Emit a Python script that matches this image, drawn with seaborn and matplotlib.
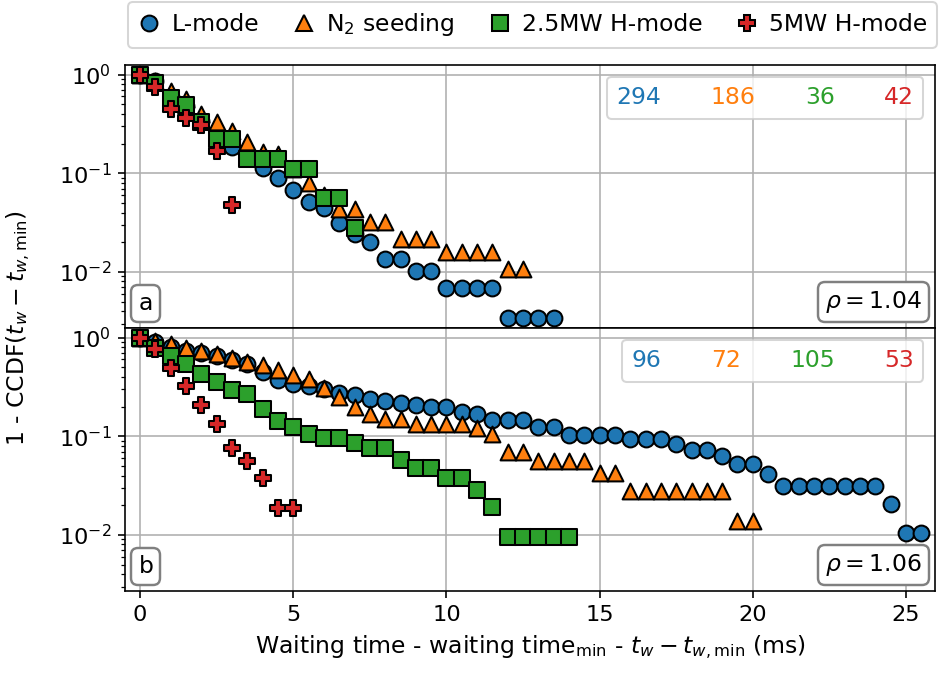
import numpy as np
import pandas as pd
import matplotlib
matplotlib.use("Agg")
import matplotlib.pyplot as plt
from matplotlib.lines import Line2D
from matplotlib.offsetbox import AnchoredText
import seaborn as sns

# ---------------- data ----------------
series_names = ["L-mode", r"N$_2$ seeding", "2.5MW H-mode", "5MW H-mode"]
colors = ["#1f77b4", "#ff7f0e", "#2ca02c", "#d62728"]
markers = ["o", "^", "s", "P"]

# panel a
a_lmode_x = [0, 0.5, 1, 1.5, 2, 2.5, 3, 3.5, 4, 4.5, 5, 5.5, 6, 6.5, 7, 7.5, 8, 8.5, 9, 9.5,
             10, 10.5, 11, 11.5, 12, 12.5, 13, 13.5]
a_lmode_y = [1.0, 0.86, 0.59, 0.48, 0.34, 0.24, 0.186, 0.15, 0.112, 0.089, 0.068, 0.051, 0.044,
             0.031, 0.024, 0.020, 0.0136, 0.0136, 0.0102, 0.0102, 0.0068, 0.0068, 0.0068, 0.0068,
             0.0034, 0.0034, 0.0034, 0.0034]
a_n2_x = [0, 0.5, 1, 1.5, 2, 2.5, 3, 3.5, 4, 4.5, 5, 5.5, 6, 6.5, 7, 7.5, 8, 8.5, 9, 9.5,
          10, 10.5, 11, 11.5, 12, 12.5]
a_n2_y = [1.0, 0.87, 0.68, 0.57, 0.40, 0.33, 0.27, 0.205, 0.165, 0.155, 0.11, 0.079, 0.06,
          0.043, 0.043, 0.032, 0.032, 0.0215, 0.0215, 0.0215, 0.0161, 0.0161, 0.0161, 0.0161,
          0.0108, 0.0108]
a_h25_x = [0, 0.5, 1, 1.5, 2, 2.5, 3, 3.5, 4, 4.5, 5, 5.5, 6, 6.5, 7]
a_h25_y = [1.0, 0.83, 0.58, 0.49, 0.33, 0.222, 0.222, 0.139, 0.139, 0.139, 0.111, 0.111,
           0.0556, 0.0556, 0.0278]
a_h5_x = [0, 0.5, 1, 1.5, 2, 2.5, 3]
a_h5_y = [1.0, 0.74, 0.45, 0.36, 0.31, 0.167, 0.048]
a_counts = ["294", "186", "36", "42"]
a_rho = r"$\rho = 1.04$"

# panel b
b_lmode_x = [0, 0.5, 1, 1.5, 2, 2.5, 3, 3.5, 4, 4.5, 5, 5.5, 6, 6.5, 7, 7.5, 8, 8.5, 9, 9.5,
             10, 10.5, 11, 11.5, 12, 12.5, 13, 13.5, 14, 14.5, 15, 15.5, 16, 16.5, 17, 17.5,
             18, 18.5, 19, 19.5, 20, 20.5, 21, 21.5, 22, 22.5, 23, 23.5, 24, 24.5, 25, 25.5]
b_lmode_y = [1.0, 0.90, 0.81, 0.73, 0.70, 0.65, 0.59, 0.535, 0.45, 0.37, 0.335, 0.32, 0.30,
             0.275, 0.26, 0.24, 0.229, 0.219, 0.208, 0.198, 0.198, 0.177, 0.167, 0.146, 0.146,
             0.146, 0.125, 0.125, 0.104, 0.104, 0.104, 0.104, 0.094, 0.094, 0.094, 0.083,
             0.073, 0.073, 0.0625, 0.052, 0.052, 0.0417, 0.03125, 0.03125, 0.03125, 0.03125,
             0.03125, 0.03125, 0.03125, 0.0208, 0.0104, 0.0104]
b_n2_x = [0, 0.5, 1, 1.5, 2, 2.5, 3, 3.5, 4, 4.5, 5, 5.5, 6, 6.5, 7, 7.5, 8, 8.5, 9, 9.5,
          10, 10.5, 11, 11.5, 12, 12.5, 13, 13.5, 14, 14.5, 15, 15.5, 16, 16.5, 17, 17.5,
          18, 18.5, 19, 19.5, 20]
b_n2_y = [1.0, 0.93, 0.86, 0.78, 0.73, 0.68, 0.62, 0.56, 0.53, 0.47, 0.42, 0.38, 0.31, 0.25,
          0.20, 0.17, 0.148, 0.148, 0.132, 0.132, 0.132, 0.132, 0.122, 0.106, 0.069, 0.069,
          0.056, 0.056, 0.056, 0.056, 0.042, 0.042, 0.028, 0.028, 0.028, 0.028, 0.028, 0.028,
          0.028, 0.0139, 0.0139]
b_h25_x = [0, 0.5, 1, 1.5, 2, 2.5, 3, 3.5, 4, 4.5, 5, 5.5, 6, 6.5, 7, 7.5, 8, 8.5, 9, 9.5,
           10, 10.5, 11, 11.5, 12, 12.5, 13, 13.5, 14]
b_h25_y = [1.0, 0.78, 0.648, 0.543, 0.43, 0.352, 0.295, 0.267, 0.19, 0.143, 0.124, 0.105,
           0.095, 0.095, 0.0857, 0.076, 0.076, 0.057, 0.0476, 0.0476, 0.038, 0.038, 0.0286,
           0.019, 0.0095, 0.0095, 0.0095, 0.0095, 0.0095]
b_h5_x = [0, 0.5, 1, 1.5, 2, 2.5, 3, 3.5, 4, 4.5, 5]
b_h5_y = [1.0, 0.774, 0.49, 0.32, 0.2075, 0.132, 0.0755, 0.0566, 0.0377, 0.0189, 0.0189]
b_counts = ["96", "72", "105", "53"]
b_rho = r"$\rho = 1.06$"

xticks = [0, 5, 10, 15, 20, 25]
xlabel = r"Waiting time - waiting time$_{\mathrm{min}}$ - $t_w - t_{w,\mathrm{min}}$ (ms)"
ylabel = r"1 - CCDF($t_w - t_{w,\mathrm{min}}$)"

# ---------------- style ----------------
sns.set_style("ticks")
plt.rcParams["font.family"] = ["DejaVu Sans"]
plt.rcParams["mathtext.fontset"] = "dejavusans"
plt.rcParams["axes.edgecolor"] = "black"
plt.rcParams["axes.labelcolor"] = "black"
plt.rcParams["text.color"] = "black"
plt.rcParams["xtick.color"] = "black"
plt.rcParams["ytick.color"] = "black"
plt.rcParams["xtick.labelcolor"] = "black"
plt.rcParams["ytick.labelcolor"] = "black"

FS = 11.5
TFS = 11
MS = 60
MEW = 1.0

fig, (ax_a, ax_b) = plt.subplots(2, 1, sharex=True, sharey=True, figsize=(942 / 147, 675 / 147), dpi=147)
fig.subplots_adjust(left=0.1332, right=0.9926, top=0.9037, bottom=0.1244, hspace=0)

panels = [
    (ax_a, [(a_lmode_x, a_lmode_y), (a_n2_x, a_n2_y), (a_h25_x, a_h25_y), (a_h5_x, a_h5_y)], a_counts, a_rho, "a"),
    (ax_b, [(b_lmode_x, b_lmode_y), (b_n2_x, b_n2_y), (b_h25_x, b_h25_y), (b_h5_x, b_h5_y)], b_counts, b_rho, "b"),
]

for ax, data, counts, rho, tag in panels:
    for i, (xs, ys) in enumerate(data):
        df = pd.DataFrame({"x": xs, "y": ys})
        sns.scatterplot(data=df, x="x", y="y", ax=ax, marker=markers[i], color=colors[i],
                        s=MS, edgecolor="black", linewidth=MEW, zorder=3 + i, legend=False)
    ax.set_yscale("log")
    ax.grid(True, which="major", color="#b0b0b0", linewidth=0.8)
    ax.set_axisbelow(True)
    ax.set_xlabel("")
    ax.set_ylabel("")
    ax.tick_params(labelsize=TFS, colors="black")
    for sp in ax.spines.values():
        sp.set_visible(True)
        sp.set_color("black")
        sp.set_linewidth(0.8)
    # counts box
    handles = [Line2D([], [], linestyle="none", marker=None) for _ in counts]
    leg = ax.legend(handles, counts, ncol=4, loc="upper right", handlelength=0, handletextpad=0,
                    columnspacing=2.1, labelcolor=colors, fontsize=FS, frameon=True)
    leg.get_frame().set_edgecolor("0.8")
    # rho box
    at = AnchoredText(rho, loc="lower right", prop=dict(size=FS, color="black"), frameon=True,
                      pad=0.3, borderpad=0.25)
    at.patch.set_boxstyle("round,pad=0,rounding_size=0.3")
    at.patch.set_edgecolor("0.5")
    at.patch.set_linewidth(1.2)
    ax.add_artist(at)
    # panel tag
    at2 = AnchoredText(tag, loc="lower left", prop=dict(size=FS, color="black"), frameon=True,
                       pad=0.3, borderpad=0.25)
    at2.patch.set_boxstyle("round,pad=0,rounding_size=0.3")
    at2.patch.set_edgecolor("0.5")
    at2.patch.set_linewidth(1.2)
    ax.add_artist(at2)

ax_b.set_xlim(-0.48, 25.95)
ax_b.set_ylim(0.0027, 1.25)
ax_b.set_xticks(xticks)
ax_b.set_xticklabels([str(t) for t in xticks])
ax_b.set_xlabel(xlabel, fontsize=FS, color="black")
ax_a.tick_params(labelbottom=False)

fig.text(0.019, 0.514, ylabel, rotation=90, va="center", ha="center", fontsize=FS, color="black")

legend_handles = [Line2D([], [], linestyle="none", marker=markers[i], markersize=np.sqrt(MS),
                         markerfacecolor=colors[i], markeredgecolor="black", markeredgewidth=MEW)
                  for i in range(4)]
fleg = fig.legend(legend_handles, series_names, ncol=4, loc="upper right",
                  bbox_to_anchor=(0.9947, 0.997), borderaxespad=0, fontsize=FS,
                  handlelength=1.0, handletextpad=0.45, columnspacing=1.4, frameon=True,
                  labelcolor="black")
fleg.get_frame().set_edgecolor("0.8")

fig.savefig("out.png", dpi=147)
